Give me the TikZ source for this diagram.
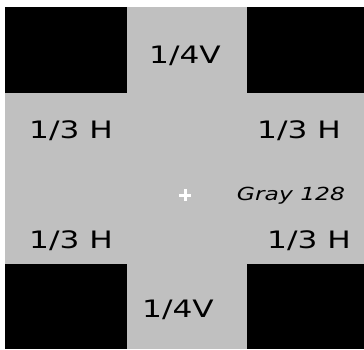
\documentclass[tikz,border=0pt]{standalone}
\usepackage{fontspec}
\setmainfont{DejaVu Sans}
\definecolor{midgray}{RGB}{192,192,192}
\begin{document}
\begin{tikzpicture}[x=1pt,y=-1pt,lbl/.style={anchor=base,inner sep=0,xscale=1.3,font=\fontsize{24}{28}\selectfont},corner/.style={fill=black}]
\fill[white](0,0)rectangle(364,349);
\fill[midgray](5,7)rectangle(364,349);
\foreach \xa/\ya/\xb/\yb in {5/7/127/93,247/7/364/93,5/264/127/349,247/264/364/349}\fill[corner](\xa,\ya)rectangle(\xb,\yb);
\node[lbl](topv)at(185,63){1/4V};\node[lbl](botv)at(178,317){1/4V};
\node[lbl](tlh)at(71,138){1/3 H};\node[lbl](trh)at(299,138){1/3 H};
\node[lbl](blh)at(71,248){1/3 H};\node[lbl](brh)at(309,248){1/3 H};
\node[lbl,font=\fontsize{18}{21}\selectfont\itshape](graylbl)at(291,200){Gray 128};
\draw[white,line width=3pt](179,195)--(191,195)(185,189)--(185,201);
\end{tikzpicture}
\end{document}
